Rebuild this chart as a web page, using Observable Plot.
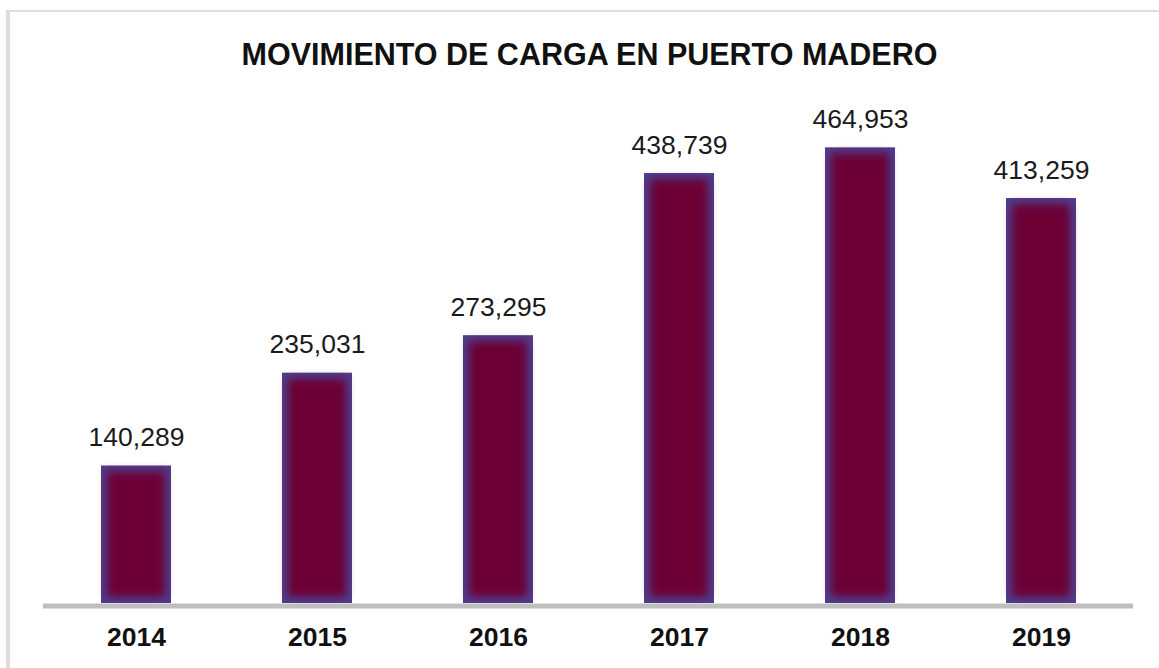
<!DOCTYPE html>
<html>
<head>
<meta charset="utf-8">
<script src="https://cdn.jsdelivr.net/npm/d3@7"></script>
<script src="https://cdn.jsdelivr.net/npm/@observablehq/plot@0.6"></script>
<style>
  html, body { margin: 0; padding: 0; background: #fff; width: 1159px; height: 668px; overflow: hidden; }
  #frame { position: absolute; left: 6px; top: 10px; width: 1300px; height: 800px;
           border-top: 2px solid #dedede; border-left: 4px solid #dcdcdc; }
  #title { position: absolute; left: 0; top: 0; width: 1179px; height: 90px; text-align: center;
           font-family: "Liberation Sans", Arial, sans-serif; font-weight: bold; font-size: 30.5px;
           line-height: 1; color: #111; }
  #title span { position: absolute; left: 0; right: 0; top: 39px; }
  #chart { position: absolute; left: 0; top: 90px; }
</style>
</head>
<body>
<div id="frame"></div>
<div id="title"><span>MOVIMIENTO DE CARGA EN PUERTO MADERO</span></div>
<div id="chart"></div>
<script>
const years = ["2014", "2015", "2016", "2017", "2018", "2019"];
const cargo = [140289, 235031, 273295, 438739, 464953, 413259];
const valueLabels = ["140,289", "235,031", "273,295", "438,739", "464,953", "413,259"];

const data = years.map((y, i) => ({year: y, value: cargo[i], label: valueLabels[i]}));

const font = "'Liberation Sans', Arial, sans-serif";

const chart = Plot.plot({
  width: 1159,
  height: 578,
  marginLeft: 43,
  marginRight: 26,
  marginTop: 23,
  marginBottom: 65,
  style: {fontFamily: font, background: "transparent", overflow: "visible"},
  x: {domain: years, paddingInner: 0.614, paddingOuter: 0.307, label: null},
  y: {domain: [0, 500000], axis: null},
  marks: [
    Plot.barY(data, {x: "year", y: "value", fill: "#4f3d8c"}),
    Plot.barY(data, {x: "year", y: "value", fill: "#6c0036", insetLeft: 6, insetRight: 6, insetTop: 6, insetBottom: 6, className: "inner-bar"}),
    Plot.ruleY([0], {stroke: "#bfbfbf", strokeWidth: 5, dy: 2.5}),
    Plot.text(data, {x: "year", y: "value", text: "label", dy: -20, lineAnchor: "bottom", fontSize: 26.5, fill: "#1a1a1a"}),
    Plot.axisX({tickSize: 0, tickPadding: 24, fontSize: 26.5, fontWeight: "bold", fill: "#111", label: null})
  ]
});

// soft glow: blur the inner maroon bars so they fade into the bluish edges
const svgNS = "http://www.w3.org/2000/svg";
const defs = document.createElementNS(svgNS, "defs");
const filter = document.createElementNS(svgNS, "filter");
filter.setAttribute("id", "soft");
filter.setAttribute("x", "-20%"); filter.setAttribute("y", "-20%");
filter.setAttribute("width", "140%"); filter.setAttribute("height", "140%");
const blur = document.createElementNS(svgNS, "feGaussianBlur");
blur.setAttribute("stdDeviation", "4");
filter.appendChild(blur);
defs.appendChild(filter);
chart.insertBefore(defs, chart.firstChild);
chart.querySelectorAll("g.inner-bar").forEach(g => g.setAttribute("filter", "url(#soft)"));

document.getElementById("chart").appendChild(chart);
</script>
</body>
</html>
